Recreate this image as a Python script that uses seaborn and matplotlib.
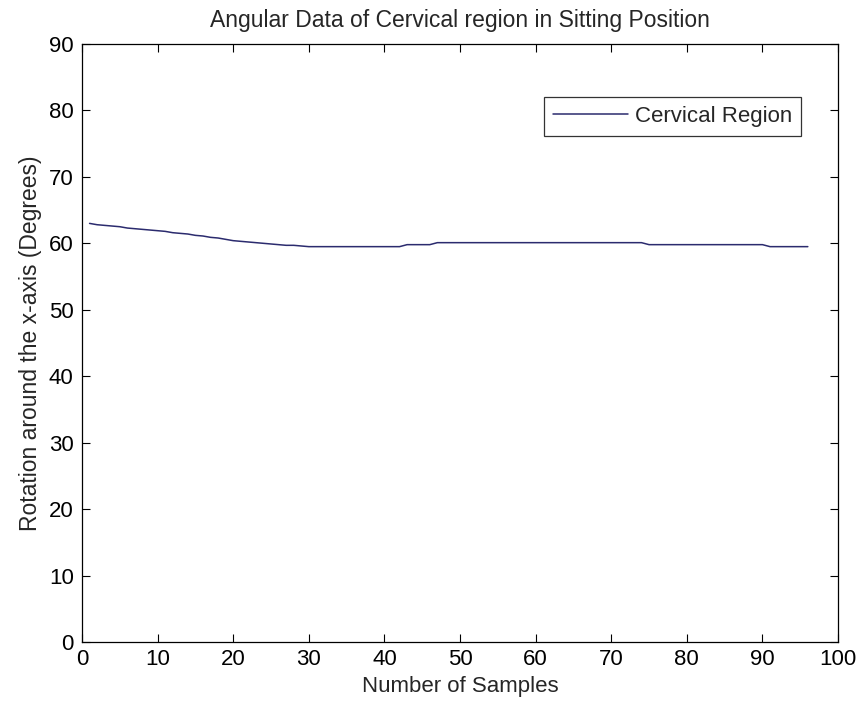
import matplotlib
matplotlib.use("Agg")
import matplotlib.pyplot as plt
import seaborn as sns
import pandas as pd

samples = list(range(1, 97))
rotation = [
    63.0, 62.8, 62.7, 62.6, 62.5, 62.3, 62.2, 62.1, 62.0, 61.9,
    61.8, 61.6, 61.5, 61.4, 61.2, 61.1, 60.9, 60.8, 60.6, 60.4,
    60.3, 60.2, 60.1, 60.0, 59.9, 59.8, 59.7, 59.7, 59.6, 59.5,
    59.5, 59.5, 59.5, 59.5, 59.5, 59.5, 59.5, 59.5, 59.5, 59.5,
    59.5, 59.5, 59.8, 59.8, 59.8, 59.8, 60.1, 60.1, 60.1, 60.1,
    60.1, 60.1, 60.1, 60.1, 60.1, 60.1, 60.1, 60.1, 60.1, 60.1,
    60.1, 60.1, 60.1, 60.1, 60.1, 60.1, 60.1, 60.1, 60.1, 60.1,
    60.1, 60.1, 60.1, 60.1, 59.8, 59.8, 59.8, 59.8, 59.8, 59.8,
    59.8, 59.8, 59.8, 59.8, 59.8, 59.8, 59.8, 59.8, 59.8, 59.8,
    59.5, 59.5, 59.5, 59.5, 59.5, 59.5,
]
series_name = "Cervical Region"
x_ticks = list(range(0, 101, 10))
y_ticks = list(range(0, 91, 10))

df = pd.DataFrame({"x": samples, "y": rotation, "series": series_name})

sns.set_style("ticks")
plt.rcParams["font.family"] = ["Liberation Sans", "DejaVu Sans"]

fig = plt.figure(figsize=(8.64, 7.07), dpi=100)
ax = fig.add_axes([0.0949, 0.0919, 0.8751, 0.8459])

sns.lineplot(data=df, x="x", y="y", hue="series", palette=["#2b2b6e"],
             linewidth=1.1, ax=ax)

ax.set_xlim(0, 100)
ax.set_ylim(0, 90)
ax.set_xticks(x_ticks)
ax.set_yticks(y_ticks)
ax.tick_params(direction="in", top=True, right=True, length=6, width=0.8,
               labelsize=16, colors="black")
ax.tick_params(axis="y", pad=6)
ax.tick_params(axis="x", pad=5)
for s in ax.spines.values():
    s.set_visible(True)
    s.set_linewidth(0.9)
    s.set_color("black")

ax.set_xlabel("Number of Samples", fontsize=16, labelpad=4)
ax.set_ylabel("Rotation around the x-axis (Degrees)", fontsize=16.5, labelpad=5)
ax.set_title("Angular Data of Cervical region in Sitting Position", fontsize=16.5, pad=12)

leg = ax.legend(loc="upper right", bbox_to_anchor=(0.951, 0.911), fontsize=16,
                frameon=True, fancybox=False, handlelength=3.4, borderpad=0.4,
                handletextpad=0.3, borderaxespad=0)
leg.get_frame().set_edgecolor("black")
leg.get_frame().set_linewidth(0.9)

fig.savefig("out.png", dpi=100)
